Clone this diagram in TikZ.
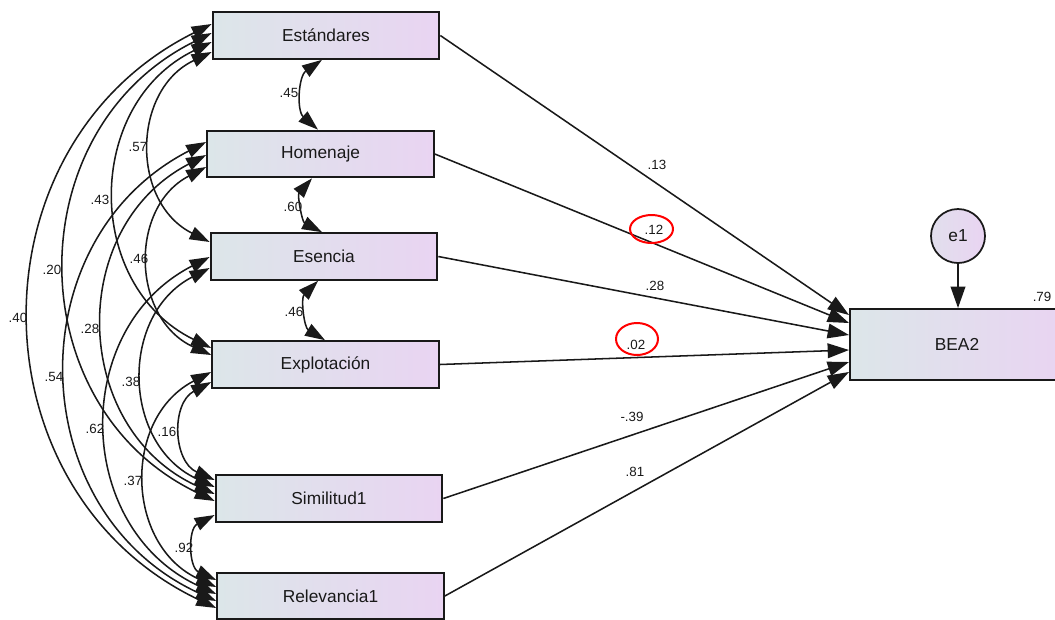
\documentclass[tikz,border=0pt]{standalone}
\usepackage{fontspec}
\setmainfont{Liberation Sans}
\usetikzlibrary{arrows.meta,calc}
\definecolor{boxleft}{RGB}{220,230,233}
\definecolor{boxright}{RGB}{233,212,242}
\definecolor{ink}{RGB}{25,25,25}
\tikzset{
  var/.style={draw=ink, line width=1.5pt, left color=boxleft, right color=boxright,
    minimum width=170pt, minimum height=35pt, inner sep=0pt, text=ink,
    font=\fontsize{13}{15}\selectfont},
  err/.style={circle, draw=ink, line width=1.3pt, left color=boxleft!60!boxright,
    right color=boxright, minimum size=40.5pt, inner sep=0pt, text=ink,
    font=\fontsize{13}{15}\selectfont},
  lbl/.style={inner sep=0pt, text=ink, font=\fontsize{10}{12}\selectfont},
  reg/.style={draw=ink, line width=1.15pt, -{Triangle[length=16pt,width=11pt]}},
  cov/.style={draw=ink, line width=1.15pt,
    {Triangle[length=15pt,width=10pt]}-{Triangle[length=15pt,width=10pt]},
    bend right=64, looseness=1.19},
  covshort/.style={cov, bend right=52, looseness=1.05},
  mark red/.style={draw=red, line width=1.5pt}
}
\begin{document}
\begin{tikzpicture}[x=0.75pt,y=-0.75pt]
\useasboundingbox (0,0) rectangle (1055,619);
\clip (0,0) rectangle (1055,619);

% observed variables
\node[var] (est) at (326,35.5) {Estándares};
\node[var] (hom) at (320.5,154) {Homenaje};
\node[var] (ese) at (324,256.5) {Esencia};
\node[var] (exp) at (325.5,364.5) {Explotación};
\node[var] (sim) at (329,498.5) {Similitud1};
\node[var] (rel) at (330.5,596) {Relevancia1};
\node[var, minimum width=160.5pt, minimum height=53.25pt] (bea) at (957,344.5) {BEA2};
\node[err] (e1) at (958,236) {e1};

% regression paths
\draw[reg] (est.east) -- ($(bea.west)+(0,-29.5)$);
\draw[reg] (hom.east) -- ($(bea.west)+(0,-21.5)$);
\draw[reg] (ese.east) -- ($(bea.west)+(0,-9.5)$);
\draw[reg] (exp.east) -- ($(bea.west)+(0,5.5)$);
\draw[reg] (sim.east) -- ($(bea.west)+(0,17.5)$);
\draw[reg] (rel.east) -- ($(bea.west)+(0,27.5)$);
\draw[reg] (e1) -- (e1 |- bea.north);

% covariances between neighbours
\draw[covshort] ($(est.south)+(-4,0)$) to ($(hom.north)+(-2.5,0)$);
\draw[covshort] ($(hom.south)+(-8.5,0)$) to ($(ese.north)+(-2,0)$);
\draw[covshort] ($(ese.south)+(-6,0)$) to ($(exp.north)+(-0.5,0)$);
\draw[cov] ($(exp.west)+(0,17.5)$) to ($(sim.west)+(0,-18.5)$);
\draw[cov] ($(sim.west)+(0,16.5)$) to ($(rel.west)+(0,-16)$);

% covariances, long arcs
\draw[cov] ($(est.west)+(0,-11.5)$) to ($(rel.west)+(0,12)$);
\draw[cov] ($(est.west)+(0,-2.5)$) to ($(sim.west)+(0,2.5)$);
\draw[cov] ($(est.west)+(0,6.5)$) to ($(exp.west)+(0,-16.5)$);
\draw[cov] ($(est.west)+(0,16.5)$) to ($(ese.west)+(0,-14.5)$);
\draw[cov] ($(hom.west)+(0,-12)$) to ($(rel.west)+(0,5)$);
\draw[cov] ($(hom.west)+(0,1)$) to ($(sim.west)+(0,-4.5)$);
\draw[cov] ($(hom.west)+(0,13)$) to ($(exp.west)+(0,-9.5)$);
\draw[cov] ($(ese.west)+(0,0.5)$) to ($(rel.west)+(0,-2)$);
\draw[cov] ($(ese.west)+(0,11.5)$) to ($(sim.west)+(0,-11.5)$);
\draw[cov] ($(exp.west)+(0,7.5)$) to ($(rel.west)+(0,-9)$);

% path labels
\node[lbl] (b13) at (657,165) {.13};
\node[lbl] (b12) at (654,230) {.12};
\node[lbl] (b28) at (655,286) {.28};
\node[lbl] (b02) at (636,345) {.02};
\node[lbl] (b39) at (632,417) {-.39};
\node[lbl] (b81) at (635,472) {.81};
\node[lbl] (r79) at (1042,297) {.79};
\draw[mark red] (651.5,229) ellipse [x radius=21.5, y radius=14];
\draw[mark red] (637,339) ellipse [x radius=21, y radius=16];

% covariance labels
\node[lbl] (c45) at (289,93) {.45};
\node[lbl] (c60) at (293,207) {.60};
\node[lbl] (c46b) at (294,312) {.46};
\node[lbl] (c16) at (167,432) {.16};
\node[lbl] (c92) at (184,548) {.92};
\node[lbl] (c57) at (138,147) {.57};
\node[lbl] (c43) at (100,200) {.43};
\node[lbl] (c46a) at (139,259) {.46};
\node[lbl] (c20) at (52,270) {.20};
\node[lbl] (c40) at (18,318) {.40};
\node[lbl] (c28) at (90,329) {.28};
\node[lbl] (c54) at (54,377) {.54};
\node[lbl] (c38) at (131,382) {.38};
\node[lbl] (c62) at (95,429) {.62};
\node[lbl] (c37) at (133,481) {.37};

\end{tikzpicture}
\end{document}
